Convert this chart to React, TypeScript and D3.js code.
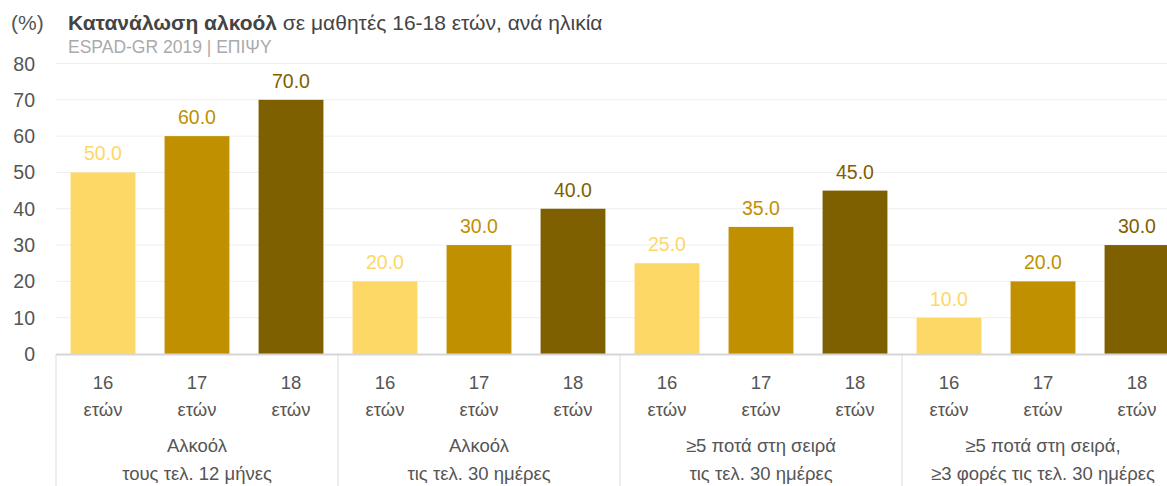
import React from "react";
import * as d3 from "d3";

const groups = [
  ["Αλκοόλ", "τους τελ. 12 μήνες"],
  ["Αλκοόλ", "τις τελ. 30 ημέρες"],
  ["≥5 ποτά στη σειρά", "τις τελ. 30 ημέρες"],
  ["≥5 ποτά στη σειρά,", "≥3 φορές τις τελ. 30 ημέρες"],
];
const ages = ["16", "17", "18"];
const ageUnit = "ετών";
const age16 = [50, 20, 25, 10];
const age17 = [60, 30, 35, 20];
const age18 = [70, 40, 45, 30];
const yTicks = [0, 10, 20, 30, 40, 50, 60, 70, 80];
const colors = ["#fdd866", "#c09000", "#7f6000"];

export default function App() {
  const W = 1167, H = 486;
  const left = 56, right = 1184, top = 63.5, bottom = 354;
  const font = "'Liberation Sans', Arial, Helvetica, sans-serif";
  const y = d3.scaleLinear().domain([0, 80]).range([bottom, top]);
  const gx = d3.scaleBand().domain(groups.map((_, i) => String(i))).range([left, right]).padding(0);
  const ax = d3.scaleBand().domain(ages).range([0, gx.bandwidth()]).paddingInner(0.31).paddingOuter(0.155);
  const series = [age16, age17, age18];
  const txt = "#555";
  return (
    <svg width={W} height={H} style={{ position: "absolute", left: 0, top: 0, fontFamily: font }}>
      <text x={11} y={30} fontSize={21} fill={txt}>(%)</text>
      <text x={68} y={30} fontSize={21} fill="#444">
        <tspan fontWeight="bold">Κατανάλωση αλκοόλ</tspan>
        <tspan> σε μαθητές 16-18 ετών, ανά ηλικία</tspan>
      </text>
      <text x={68} y={53} fontSize={17.5} fill="#aaa">ESPAD-GR 2019 | ΕΠΙΨΥ</text>
      {yTicks.map((t) => (
        <g key={t}>
          {t > 0 && <line x1={left} x2={W} y1={y(t)} y2={y(t)} stroke="#efefef" strokeWidth={1} />}
          <text x={35} y={y(t) + 7} fontSize={19.5} fill={txt} textAnchor="end">{t}</text>
        </g>
      ))}
      {groups.map((g, gi) => {
        const x0 = gx(String(gi))!;
        return (
          <g key={gi}>
            {series.map((s, si) => {
              const bx = x0 + ax(ages[si])!;
              const bw = ax.bandwidth();
              const cx = bx + bw / 2;
              return (
                <g key={si}>
                  <rect x={bx} y={y(s[gi])} width={bw} height={bottom - y(s[gi])} fill={colors[si]} />
                  <text x={cx} y={y(s[gi]) - 12} fontSize={19.5} fill={colors[si]} textAnchor="middle">{s[gi].toFixed(1)}</text>
                  <text x={cx} y={389} fontSize={18.5} fill={txt} textAnchor="middle">{ages[si]}</text>
                  <text x={cx} y={416} fontSize={18.5} fill={txt} textAnchor="middle">{ageUnit}</text>
                </g>
              );
            })}
            <line x1={x0} x2={x0} y1={bottom} y2={H} stroke="#dddddd" strokeWidth={1} />
            <text x={x0 + gx.bandwidth() / 2} y={452} fontSize={18.5} fill={txt} textAnchor="middle">{g[0]}</text>
            <text x={x0 + gx.bandwidth() / 2} y={480} fontSize={18.5} fill={txt} textAnchor="middle">{g[1]}</text>
          </g>
        );
      })}
      <line x1={left} x2={W} y1={bottom + 0.5} y2={bottom + 0.5} stroke="#d6d6d6" strokeWidth={2} />
    </svg>
  );
}
